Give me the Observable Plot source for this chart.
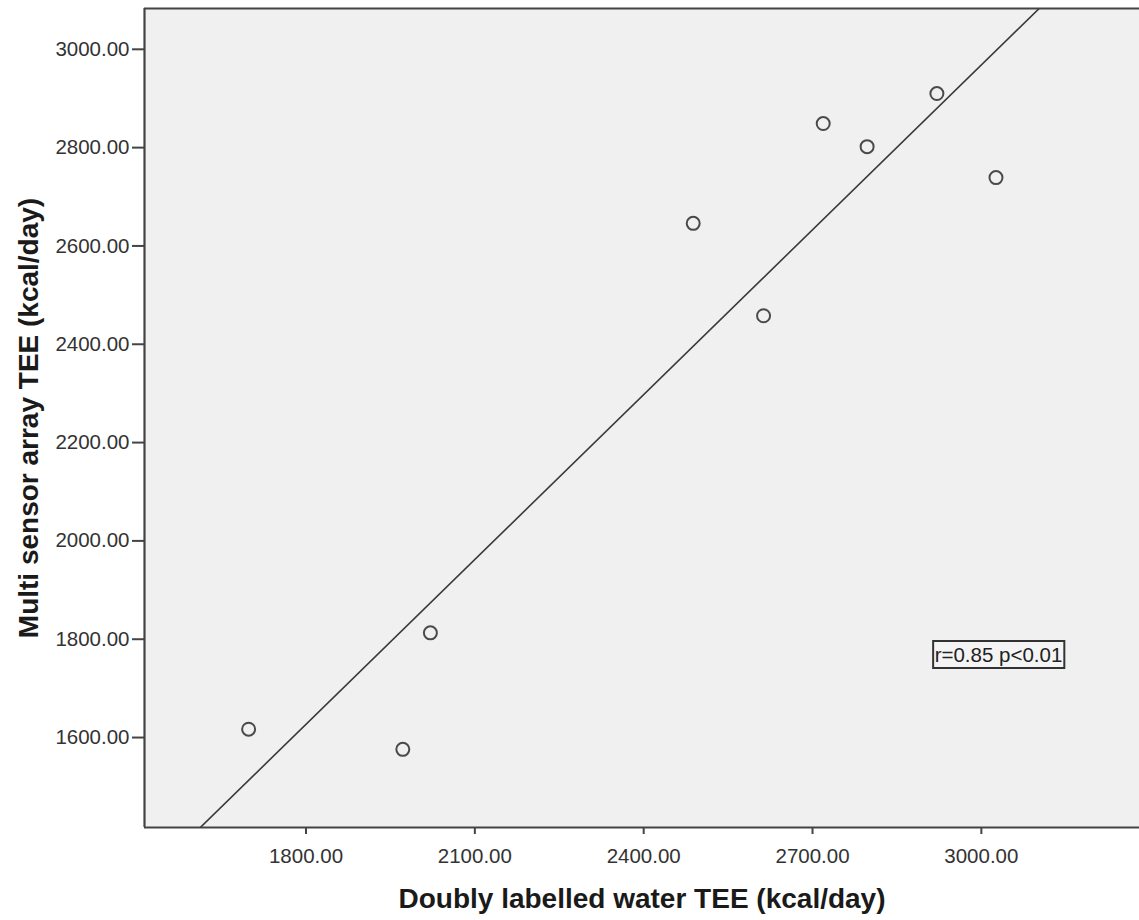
<!DOCTYPE html>
<html>
<head>
<meta charset="utf-8">
<script src="https://cdn.jsdelivr.net/npm/d3@7"></script>
<script src="https://cdn.jsdelivr.net/npm/@observablehq/plot@0.6"></script>
<style>
  html, body { margin: 0; padding: 0; background: #ffffff; overflow: hidden; }
  #wrap { width: 1139px; height: 920px; overflow: hidden; }
  #wrap svg { max-width: none !important; font-family: "Liberation Sans", Arial, sans-serif; }
</style>
</head>
<body>
<div id="wrap"></div>
<script>
// Doubly labelled water TEE (x) vs multi sensor array TEE (y), kcal/day
const dlwTEE = [1698, 1972, 2021, 2488, 2613, 2719, 2797, 2921, 3026];
const msaTEE = [1617, 1576, 1813, 2646, 2458, 2849, 2802, 2910, 2739];
const xTicks = [1800, 2100, 2400, 2700, 3000];
const yTicks = [1600, 1800, 2000, 2200, 2400, 2600, 2800, 3000];
const xDomain = [1513, 3281];
const yDomain = [1417, 3083];
const xTitle = "Doubly labelled water TEE (kcal/day)";
const yTitle = "Multi sensor array TEE (kcal/day)";
const annotation = [{x: 2917, y: 1767, label: "r=0.85 p<0.01"}];

const points = dlwTEE.map((x, i) => ({x, y: msaTEE[i]}));

// least-squares fit line, drawn across the full x domain
const mx = d3.mean(dlwTEE), my = d3.mean(msaTEE);
const slope = d3.sum(points, d => (d.x - mx) * (d.y - my)) / d3.sum(points, d => (d.x - mx) ** 2);
const intercept = my - slope * mx;
const fitLine = xDomain.map(x => ({x, y: intercept + slope * x}));

const fmt = d3.format(".2f");

const chart = Plot.plot({
  width: 1139,
  height: 920,
  marginLeft: 144,
  marginRight: 0,
  marginTop: 8,
  marginBottom: 93,
  style: {background: "#ffffff", fontFamily: "Liberation Sans, Arial, sans-serif", maxWidth: "none"},
  x: {domain: xDomain},
  y: {domain: yDomain},
  marks: [
    Plot.frame({fill: "#f0f0f0", stroke: null}),
    Plot.line(fitLine, {x: "x", y: "y", stroke: "#3a3a3a", strokeWidth: 1.6, clip: true}),
    Plot.dot(points, {x: "x", y: "y", r: 6.5, stroke: "#4a4a4a", strokeWidth: 2, fill: "none"}),
    Plot.text(annotation, {x: "x", y: "y", text: "label", textAnchor: "start", fontSize: 20.5, fill: "#222", className: "annot"}),
    Plot.axisX({ticks: xTicks, tickFormat: fmt, tickSize: 7, tickPadding: 14, fontSize: 20.5, stroke: "#444", strokeWidth: 2, fill: "#333", label: null}),
    Plot.axisY({ticks: yTicks, tickFormat: fmt, tickSize: 12, tickPadding: 3, fontSize: 20.5, stroke: "#444", strokeWidth: 2, fill: "#333", label: null}),
    // frame on left, top and bottom (the right side runs past the picture edge)
    Plot.ruleX([xDomain[0]], {stroke: "#444", strokeWidth: 2.2}),
    Plot.ruleY(yDomain, {stroke: "#444", strokeWidth: 2.2}),
    Plot.text([xTitle], {frameAnchor: "bottom", dy: 72, text: d => d, fontSize: 28, fontWeight: "bold", fill: "#1a1a1a", textAnchor: "middle", lineAnchor: "middle"}),
    Plot.text([yTitle], {frameAnchor: "left", dx: -115, rotate: -90, text: d => d, fontSize: 28, fontWeight: "bold", fill: "#1a1a1a", textAnchor: "middle", lineAnchor: "middle"})
  ]
});

document.getElementById("wrap").appendChild(chart);

// draw the box round the annotation text
const annotText = chart.querySelector(".annot text");
if (annotText) {
  const b = annotText.getBBox();
  const rect = document.createElementNS("http://www.w3.org/2000/svg", "rect");
  rect.setAttribute("x", b.x - 1.5);
  rect.setAttribute("y", b.y - 2);
  rect.setAttribute("width", b.width + 3.5);
  rect.setAttribute("height", b.height + 4);
  rect.setAttribute("fill", "#f4f4f4");
  rect.setAttribute("stroke", "#333");
  rect.setAttribute("stroke-width", 2);
  const t = annotText.getAttribute("transform");
  if (t) rect.setAttribute("transform", t);
  annotText.parentNode.insertBefore(rect, annotText);
}
</script>
</body>
</html>
